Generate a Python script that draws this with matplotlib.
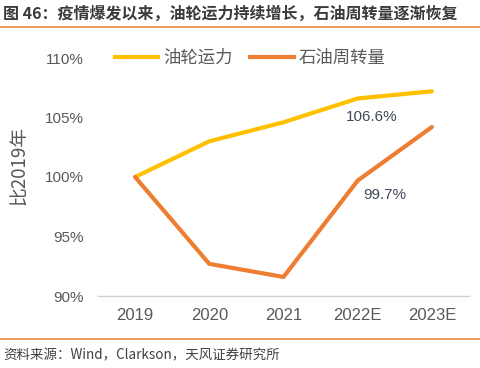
import matplotlib
matplotlib.use("Agg")
import matplotlib.pyplot as plt
from matplotlib.lines import Line2D

# data (index, 2019 = 100%)
years = ["2019", "2020", "2021", "2022E", "2023E"]
tanker_capacity = [100.0, 103.0, 104.6, 106.6, 107.2]
oil_turnover = [100.0, 92.7, 91.6, 99.7, 104.2]
series_names = ["油轮运力", "石油周转量"]
yticks = [90, 95, 100, 105, 110]

COLOR_YELLOW = "#FFC000"
COLOR_ORANGE = "#ED7D31"
COLOR_RULE = "#E8893A"
COLOR_TICK = "#595959"
COLOR_TITLE = "#3A3A3A"
CJK = ["Noto Sans CJK SC", "DejaVu Sans"]

plt.rcParams["font.family"] = ["Liberation Sans", "Noto Sans CJK SC", "DejaVu Sans"]

fig = plt.figure(figsize=(4.81, 3.68), dpi=100)
fig.patch.set_facecolor("white")

# title + rules
fig.text(0.006, 1 - 14 / 368, "图 46：疫情爆发以来，油轮运力持续增长，石油周转量逐渐恢复",
         fontsize=11.5, fontweight="bold", color=COLOR_TITLE, va="center", ha="left",
         family=CJK)
fig.add_artist(Line2D([0, 1], [1 - 27 / 368] * 2, color=COLOR_RULE, lw=1.2))
fig.add_artist(Line2D([0, 1], [1 - 339 / 368] * 2, color=COLOR_RULE, lw=1.2))
fig.text(0.006, 1 - 355 / 368, "资料来源：Wind，Clarkson，天风证券研究所",
         fontsize=9.7, color="#404040", va="center", ha="left", family=CJK)

ax = fig.add_axes([98 / 481, (368 - 296) / 368, 371 / 481, 238 / 368])
x = list(range(len(years)))
ax.plot(x, tanker_capacity, color=COLOR_YELLOW, lw=3, solid_capstyle="round")
ax.plot(x, oil_turnover, color=COLOR_ORANGE, lw=3, solid_capstyle="round")

ax.set_xlim(-0.5, len(years) - 0.5)
ax.set_ylim(90, 110)
ax.set_xticks(x)
ax.set_xticklabels(years)
ax.set_yticks(yticks)
ax.set_yticklabels([f"{v}%" for v in yticks])
ax.tick_params(length=0, labelcolor=COLOR_TICK)
ax.tick_params(axis="x", pad=9, labelsize=12)
ax.tick_params(axis="y", pad=10, labelsize=11)
for side in ["top", "right", "left"]:
    ax.spines[side].set_visible(False)
ax.spines["bottom"].set_color("#D0D0D0")
ax.spines["bottom"].set_linewidth(1.0)

# y label: right edge (anchor) placed so that its centre sits ~21px from left
ax.set_ylabel("比2019年", fontsize=13.5, color=COLOR_TICK, family=CJK)
ax.yaxis.set_label_coords((30 - 98) / 371, (296 - 165) / 238)

# value labels
ax.text(3.19, 105.04, f"{tanker_capacity[3]}%",
        ha="center", va="center", fontsize=11, color="#404A5A")
ax.text(3.37, 98.49, f"{oil_turnover[3]}%",
        ha="center", va="center", fontsize=11, color="#404A5A")

handles = [Line2D([], [], color=COLOR_YELLOW, lw=3),
           Line2D([], [], color=COLOR_ORANGE, lw=3)]
leg = ax.legend(handles, series_names, loc="center", bbox_to_anchor=(0.41, 1.0),
                ncol=2, frameon=False, fontsize=12.5, handlelength=2.5,
                handletextpad=0.3, columnspacing=1.0)
for t in leg.get_texts():
    t.set_color(COLOR_TICK)
    t.set_family(CJK)

fig.savefig("out.png", dpi=100, facecolor="white")
